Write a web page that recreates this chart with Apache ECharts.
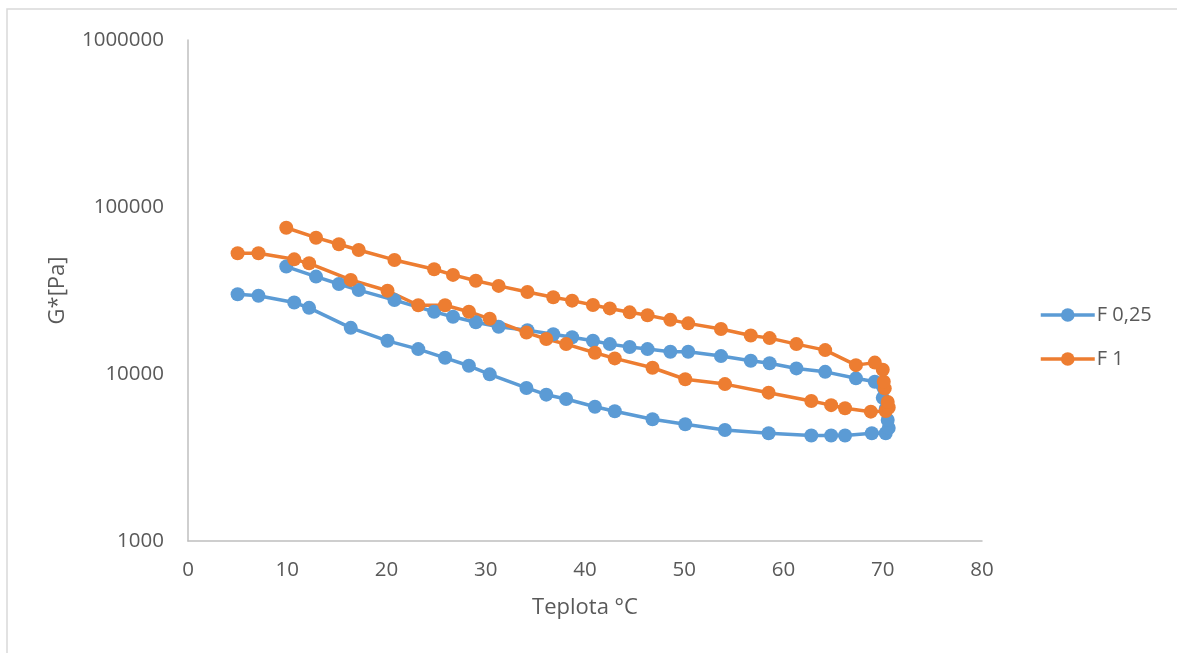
<!DOCTYPE html>
<html>
<head>
<meta charset="utf-8">
<script src="https://cdn.jsdelivr.net/npm/echarts@6/dist/echarts.min.js"></script>
<style>
  html, body { margin: 0; padding: 0; background: #fff; }
  #chart { width: 1177px; height: 653px; }
</style>
</head>
<body>
<div id="chart"></div>
<script>
// Heating (5 -> 70 °C) followed by cooling (70 -> 10 °C), complex modulus G* in Pa
const tempF025 = [5.0, 7.1, 10.7, 12.2, 16.4, 20.1, 23.2, 25.9, 28.3, 30.4, 34.1, 36.1, 38.1, 41.0, 43.0, 46.8, 50.1, 54.1, 58.5, 62.8, 64.8, 66.2, 68.9, 70.3,
  70.6, 70.5, 70.3, 70.0, 69.2, 67.3, 64.2, 61.3, 58.6, 56.7, 53.7, 50.4, 48.6, 46.3, 44.5, 42.5, 40.8, 38.7, 36.8, 34.2, 31.3, 29.0, 26.7, 24.8, 20.8, 17.2, 15.2, 12.9, 9.9];
const gF025 = [30000, 29400, 26800, 24900, 18900, 15800, 14100, 12500, 11200, 9950, 8250, 7520, 7080, 6370, 5980, 5360, 5000, 4620, 4420, 4280, 4280, 4280, 4420, 4420,
  4750, 5300, 6200, 7200, 8990, 9420, 10300, 10800, 11600, 12000, 12800, 13600, 13600, 14100, 14500, 15100, 15800, 16600, 17300, 18300, 19200, 20400, 22000, 23600, 27700, 31800, 34600, 38300, 44000];

const tempF1 = [5.0, 7.1, 10.7, 12.2, 16.4, 20.1, 23.2, 25.9, 28.3, 30.4, 34.1, 36.1, 38.1, 41.0, 43.0, 46.8, 50.1, 54.1, 58.5, 62.8, 64.8, 66.2, 68.8, 70.3,
  70.6, 70.5, 70.2, 70.1, 70.0, 69.2, 67.3, 64.2, 61.3, 58.6, 56.7, 53.7, 50.4, 48.6, 46.3, 44.5, 42.5, 40.8, 38.7, 36.8, 34.2, 31.3, 29.0, 26.7, 24.8, 20.8, 17.2, 15.2, 12.9, 9.9];
const gF1 = [52900, 52900, 48600, 46000, 36600, 31500, 25800, 25800, 23600, 21400, 17700, 16200, 15100, 13400, 12400, 10900, 9300, 8700, 7730, 6890, 6510, 6240, 5950, 6000,
  6300, 6800, 8200, 9000, 10600, 11700, 11300, 13900, 15100, 16400, 17000, 18600, 20100, 21100, 22500, 23400, 24700, 25900, 27500, 28800, 31000, 33700, 36200, 39200, 42400, 48200, 55300, 59800, 65500, 75100];

const seriesNames = ['F 0,25', 'F 1'];
const seriesColors = ['#5B9BD5', '#ED7D31'];

const pairs = (xs, ys) => xs.map((x, i) => [x, ys[i]]);

const FONT = '"Open Sans", "Liberation Sans", sans-serif';
const TEXT = '#595959';
const AXIS = '#BFBFBF';

const chart = echarts.init(document.getElementById('chart'), null, { renderer: 'canvas' });

function makeSeries(name, color, data) {
  return {
    name: name,
    type: 'line',
    data: data,
    symbol: 'circle',
    symbolSize: 14,
    showSymbol: true,
    lineStyle: { color: color, width: 3.5 },
    itemStyle: { color: color },
    emphasis: { disabled: true },
    animation: false
  };
}

chart.setOption({
  backgroundColor: '#fff',
  animation: false,
  textStyle: { fontFamily: FONT },
  graphic: [{
    type: 'rect',
    shape: { x: 7, y: 9, width: 1200, height: 700 },
    style: { fill: 'none', stroke: '#D9D9D9', lineWidth: 1.5 },
    silent: true,
    z: -10
  }],
  grid: { left: 188, top: 40, right: 195, bottom: 112, containLabel: false },
  legend: {
    orient: 'vertical',
    left: 1034,
    top: 300,
    itemWidth: 54,
    itemHeight: 17,
    itemGap: 24,
    lineStyle: { width: 3.5 },
    textStyle: { color: TEXT, fontSize: 20, fontFamily: FONT, padding: [0, 0, 0, -3] },
    data: seriesNames
  },
  xAxis: {
    type: 'value',
    min: 0,
    max: 80,
    interval: 10,
    name: 'Teplota °C',
    nameLocation: 'middle',
    nameGap: 56,
    nameTextStyle: { color: TEXT, fontSize: 22, fontFamily: FONT },
    axisLine: { show: true, lineStyle: { color: AXIS, width: 1.5 } },
    axisTick: { show: false },
    splitLine: { show: false },
    axisLabel: { color: TEXT, fontSize: 20.5, fontFamily: FONT, margin: 19 }
  },
  yAxis: {
    type: 'log',
    logBase: 10,
    min: 1000,
    max: 1000000,
    name: 'G*[Pa]',
    nameLocation: 'middle',
    nameGap: 119,
    nameRotate: 90,
    nameTextStyle: { color: TEXT, fontSize: 22, fontFamily: FONT },
    axisLine: { show: true, lineStyle: { color: AXIS, width: 1.5 } },
    axisTick: { show: false },
    splitLine: { show: false },
    axisLabel: {
      color: TEXT, fontSize: 20.5, fontFamily: FONT, margin: 24,
      formatter: v => String(Math.round(v))
    }
  },
  series: [
    makeSeries(seriesNames[0], seriesColors[0], pairs(tempF025, gF025)),
    makeSeries(seriesNames[1], seriesColors[1], pairs(tempF1, gF1))
  ]
});
</script>
</body>
</html>
